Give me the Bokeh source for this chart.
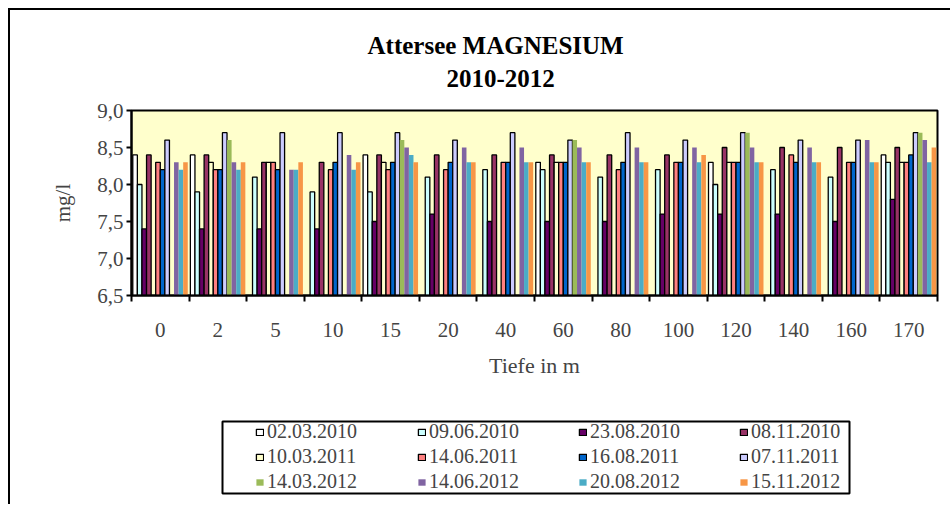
from bokeh.plotting import figure
from bokeh.layouts import column
from bokeh.models import Legend, LegendItem, FixedTicker, Range1d, ColumnDataSource, Title
from bokeh.transform import dodge
from bokeh.embed import file_html
from bokeh.resources import INLINE

N = float("nan")

depths = ["0", "2", "5", "10", "15", "20", "40", "60", "80", "100", "120", "140", "160", "170"]

series_names = ["02.03.2010", "09.06.2010", "23.08.2010", "08.11.2010",
                "10.03.2011", "14.06.2011", "16.08.2011", "07.11.2011",
                "14.03.2012", "14.06.2012", "20.08.2012", "15.11.2012"]

s_02_03_2010 = [8.4, 8.4, N, N, 8.4, N, N, 8.3, N, N, 8.3, N, N, 8.4]
s_09_06_2010 = [8.0, 7.9, 8.1, 7.9, 7.9, 8.1, 8.2, 8.2, 8.1, 8.2, 8.0, 8.2, 8.1, 8.3]
s_23_08_2010 = [7.4, 7.4, 7.4, 7.4, 7.5, 7.6, 7.5, 7.5, 7.5, 7.6, 7.6, 7.6, 7.5, 7.8]
s_08_11_2010 = [8.4, 8.4, 8.3, 8.3, 8.4, 8.4, 8.4, 8.4, 8.4, 8.4, 8.5, 8.5, 8.5, 8.5]
s_10_03_2011 = [N, 8.3, 8.3, N, 8.3, N, N, 8.3, N, N, 8.3, N, N, 8.3]
s_14_06_2011 = [8.3, 8.2, 8.3, 8.2, 8.2, 8.2, 8.3, 8.3, 8.2, 8.3, 8.3, 8.4, 8.3, 8.3]
s_16_08_2011 = [8.2, 8.2, 8.2, 8.3, 8.3, 8.3, 8.3, 8.3, 8.3, 8.3, 8.3, 8.3, 8.3, 8.4]
s_07_11_2011 = [8.6, 8.7, 8.7, 8.7, 8.7, 8.6, 8.7, 8.6, 8.7, 8.6, 8.7, 8.6, 8.6, 8.7]
s_14_03_2012 = [N, 8.6, N, N, 8.6, N, N, 8.6, N, N, 8.7, N, N, 8.7]
s_14_06_2012 = [8.3, 8.3, 8.2, 8.4, 8.5, 8.5, 8.5, 8.5, 8.5, 8.5, 8.5, 8.5, 8.6, 8.6]
s_20_08_2012 = [8.2, 8.2, 8.2, 8.2, 8.4, 8.3, 8.3, 8.3, 8.3, 8.3, 8.3, 8.3, 8.3, 8.3]
s_15_11_2012 = [8.3, 8.3, 8.3, 8.3, 8.3, 8.3, 8.3, 8.3, 8.3, 8.4, 8.3, 8.3, 8.3, 8.5]

series_values = [s_02_03_2010, s_09_06_2010, s_23_08_2010, s_08_11_2010,
                 s_10_03_2011, s_14_06_2011, s_16_08_2011, s_07_11_2011,
                 s_14_03_2012, s_14_06_2012, s_20_08_2012, s_15_11_2012]

colors = ["#FFFFFF", "#CCFFFF", "#660066", "#993366",
          "#FFFFCC", "#FF8080", "#0066CC", "#CCCCFF",
          "#9BBB59", "#8064A2", "#4BACC6", "#F79646"]
bordered = [True, True, True, True, True, True, True, True, False, False, False, False]

y_ticks = [6.5, 7.0, 7.5, 8.0, 8.5, 9.0]
y_labels = ["6,5", "7,0", "7,5", "8,0", "8,5", "9,0"]

FONT = "Liberation Serif"

# ---------------- main chart ----------------
p = figure(width=940, height=400, x_range=Range1d(0, 14), y_range=Range1d(6.5, 9.0),
           output_backend="svg", toolbar_location=None, frame_align=False,
           min_border_left=121, min_border_right=13, min_border_top=100, min_border_bottom=115)
p.background_fill_color = "#FFFFCC"
p.border_fill_color = "white"
p.outline_line_color = "black"
p.outline_line_width = 2
p.xgrid.visible = False
p.ygrid.visible = False

n_series = len(series_names)
group = 0.955
w = group / n_series
xc = [i + 0.5 for i in range(len(depths))]

for k in range(n_series):
    src = ColumnDataSource(dict(x=xc, top=series_values[k]))
    off = -group / 2 + (k + 0.5) * w
    p.vbar(x=dodge("x", off), top="top", bottom=6.5, width=w, source=src,
           fill_color=colors[k],
           line_color="black" if bordered[k] else None,
           line_width=1.3)

yax = p.yaxis[0]
yax.ticker = FixedTicker(ticks=y_ticks)
yax.major_label_overrides = {t: l for t, l in zip(y_ticks, y_labels)}
yax.axis_line_width = 2
yax.major_tick_line_width = 2
yax.major_tick_out = 5
yax.major_tick_in = 0
yax.minor_tick_out = 0
yax.minor_tick_in = 0
yax.major_label_text_font = FONT
yax.major_label_text_font_size = "21px"
yax.major_label_standoff = 3
yax.axis_label = "mg/l"
yax.axis_label_text_font = FONT
yax.axis_label_text_font_size = "21px"
yax.axis_label_text_font_style = "normal"
yax.axis_label_standoff = 19

xax = p.xaxis[0]
xax.ticker = FixedTicker(ticks=xc, minor_ticks=list(range(len(depths) + 1)))
xax.major_label_overrides = {c: d for c, d in zip(xc, depths)}
xax.axis_line_width = 2
xax.major_tick_out = 0
xax.major_tick_in = 0
xax.minor_tick_out = 6
xax.minor_tick_in = 0
xax.minor_tick_line_width = 2
xax.major_label_text_font = FONT
xax.major_label_text_font_size = "21px"
xax.major_label_standoff = 21
xax.axis_label = "Tiefe in m"
xax.axis_label_text_font = FONT
xax.axis_label_text_font_size = "22px"
xax.axis_label_text_font_style = "normal"
xax.axis_label_standoff = 13

# titles (added nearest-first)
p.title.visible = False
p.add_layout(Title(text="2010-2012", align="left", offset=315, standoff=48,
                   text_font=FONT, text_font_size="25px", text_font_style="bold",
                   text_color="black"), "above")
p.add_layout(Title(text="Attersee MAGNESIUM", align="left", offset=236, standoff=-31,
                   text_font=FONT, text_font_size="25px", text_font_style="bold",
                   text_color="black"), "above")

# ---------------- legend box ----------------
lf = figure(width=940, height=94, x_range=Range1d(0, 1), y_range=Range1d(0, 1),
            x_axis_type=None, y_axis_type=None, output_backend="svg", toolbar_location=None,
            frame_align=False,
            min_border_left=212, min_border_right=101, min_border_top=11, min_border_bottom=11)
lf.outline_line_color = "black"
lf.outline_line_width = 2
lf.background_fill_color = "white"
lf.border_fill_color = "white"
lf.xgrid.visible = False
lf.ygrid.visible = False

# legend-only renderers: their single mark lies outside the visible range
dummies = []
for k in range(n_series):
    r = lf.quad(left=[5.0], right=[6.0], top=[5.0], bottom=[4.0], fill_color=colors[k],
                line_color="black" if bordered[k] else None, line_width=1.3)
    dummies.append(r)

col_x = [33, 195, 356, 517]
for j in range(4):
    items = [LegendItem(label=series_names[j + 4 * r], renderers=[dummies[j + 4 * r]])
             for r in range(3)]
    lg = Legend(items=items, orientation="vertical", location=(col_x[j], 0),
                border_line_color=None, background_fill_alpha=0,
                label_text_font=FONT, label_text_font_size="20px",
                glyph_width=9, glyph_height=8, label_standoff=3,
                spacing=2, padding=1, margin=0, label_height=22)
    lf.add_layout(lg)

root = column(p, lf, spacing=0)
root.styles = {"margin-top": "8px", "margin-left": "8px",
               "border-top": "2px solid black", "border-left": "2px solid black"}

open("out.html", "w").write(file_html(root, INLINE))
